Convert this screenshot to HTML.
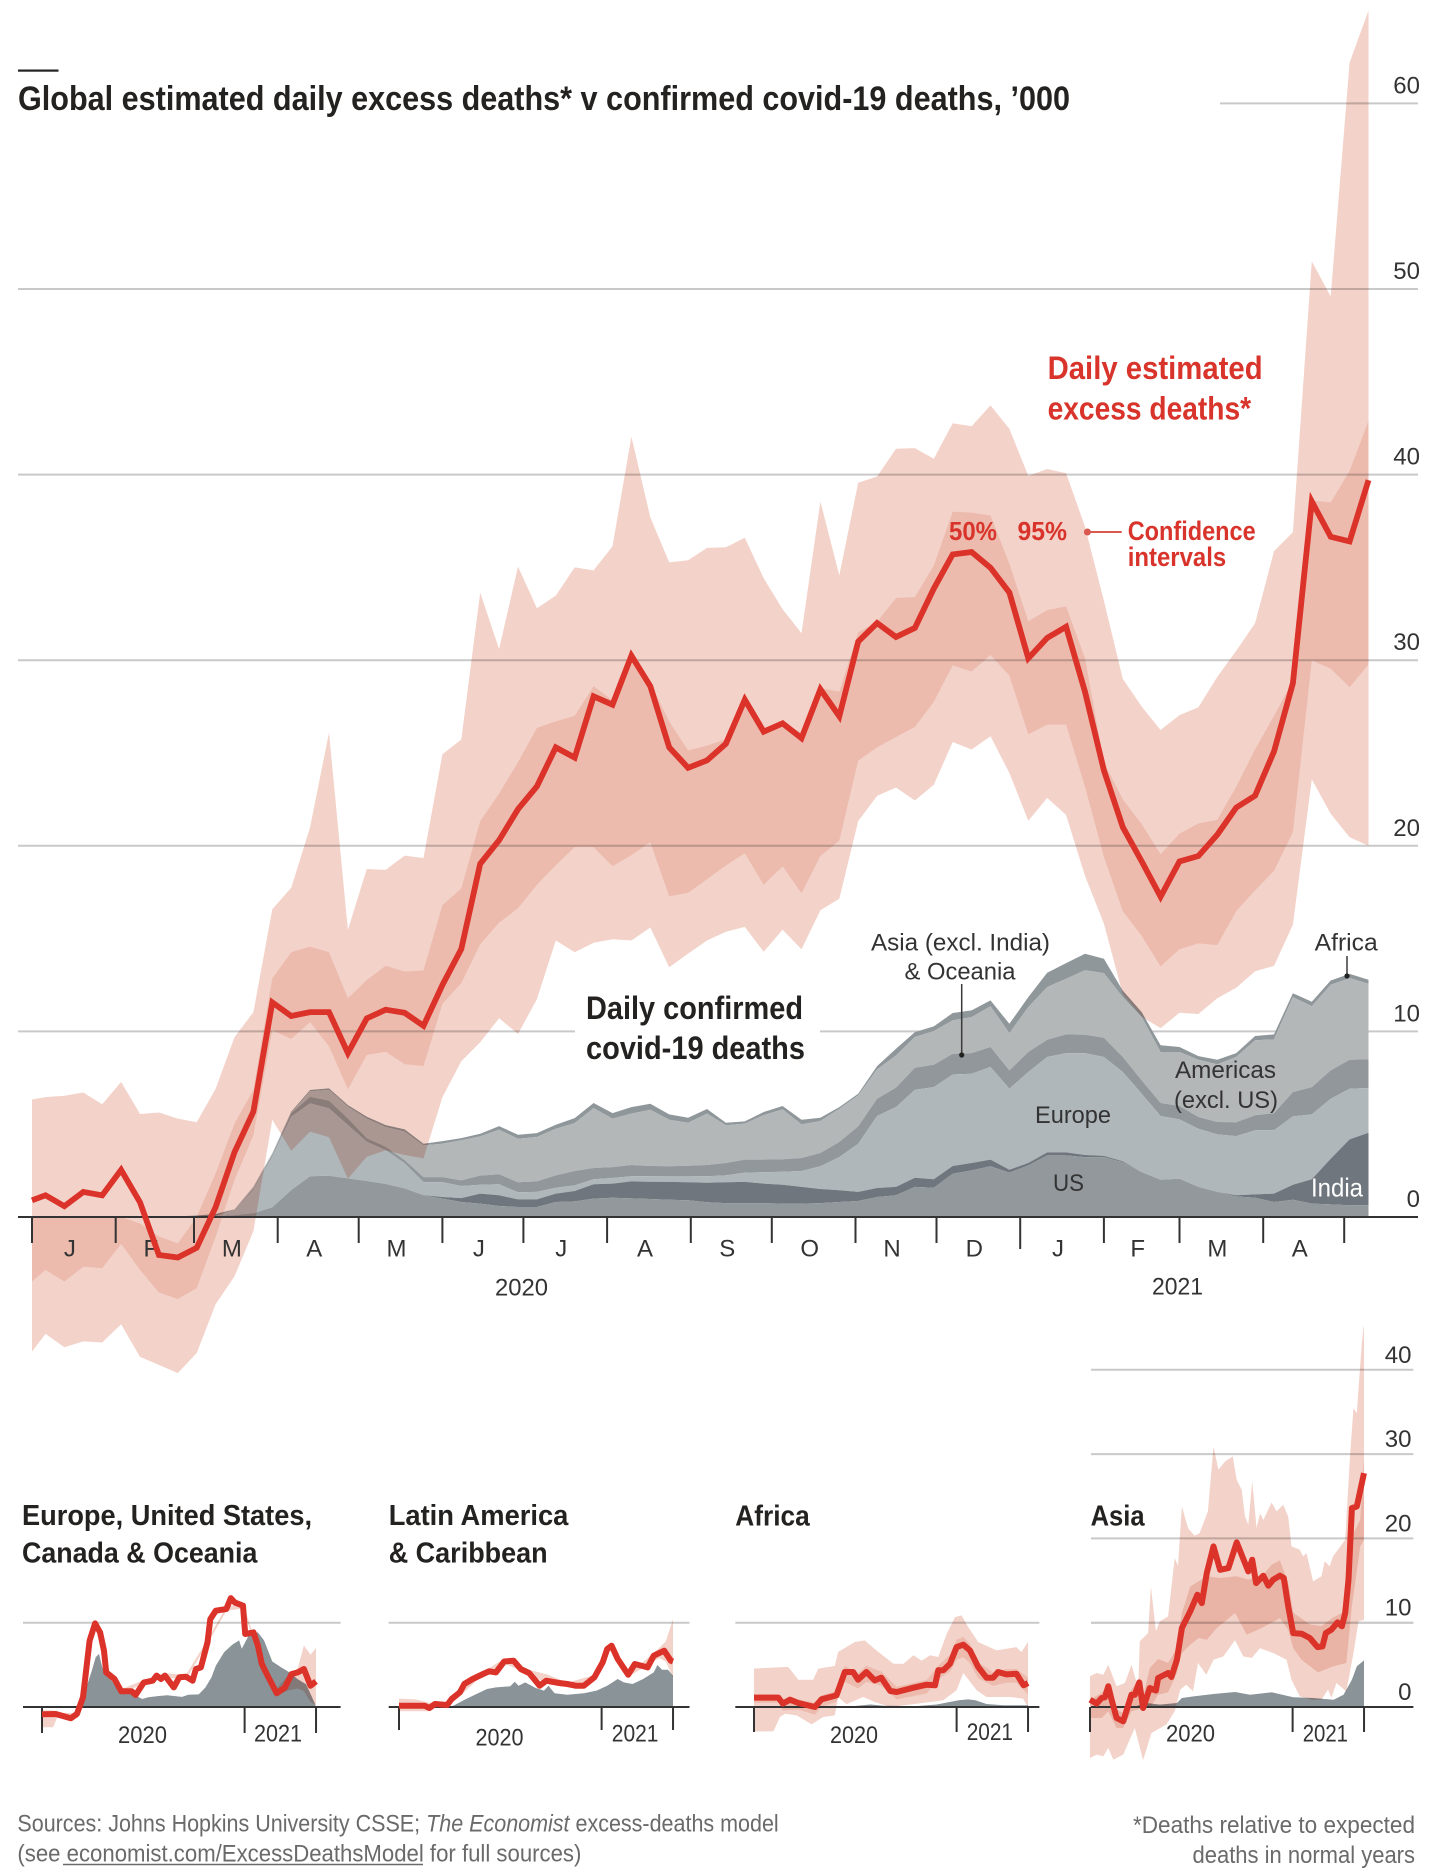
<!DOCTYPE html>
<html lang="en">
<head>
<meta charset="utf-8">
<title>Global estimated daily excess deaths v confirmed covid-19 deaths</title>
<style>
html,body{margin:0;padding:0;background:#fff;}
svg{display:block;font-family:"Liberation Sans",sans-serif;}
.t{fill:#333;font-size:24px;}
.b{fill:#242220;font-weight:bold;}
.r{fill:#d9342b;font-weight:bold;}
.s{fill:#6a6a6a;font-size:24px;}
</style>
</head>
<body>
<svg id="chart" xmlns="http://www.w3.org/2000/svg" width="1434" height="1870" viewBox="0 0 1434 1870">
<rect x="0" y="0" width="1434" height="1870" fill="#fff"/>
<rect x="18" y="69.5" width="40.5" height="2.2" fill="#222"/>
<text class="b" x="18" y="110" font-size="34" textLength="1052" lengthAdjust="spacingAndGlyphs">Global estimated daily excess deaths* v confirmed covid-19 deaths, ’000</text>
<g id="gridLayer"></g>
<g id="grayLayer"></g>
<g id="pinkLayer"></g>
<g id="axisLayer"></g>
<g id="labelLayer"></g>
<g id="lineLayer"></g>

<text class="r" x="1047.6" y="379" font-size="32" textLength="215" lengthAdjust="spacingAndGlyphs">Daily estimated</text>
<text class="r" x="1047.6" y="419.5" font-size="32" textLength="203.5" lengthAdjust="spacingAndGlyphs">excess deaths*</text>
<text class="r" x="949" y="540" font-size="26" textLength="48" lengthAdjust="spacingAndGlyphs">50%</text>
<text class="r" x="1017.5" y="540" font-size="26" textLength="49.5" lengthAdjust="spacingAndGlyphs">95%</text>
<circle cx="1087.4" cy="532" r="3.5" fill="#d9584f"/>
<line x1="1087.4" y1="532" x2="1121.7" y2="532" stroke="#d9584f" stroke-width="2"/>
<text class="r" x="1127.7" y="540" font-size="27" textLength="128" lengthAdjust="spacingAndGlyphs">Confidence</text>
<text class="r" x="1127.7" y="566" font-size="27" textLength="98.5" lengthAdjust="spacingAndGlyphs">intervals</text>

<text class="b" x="586" y="1019" font-size="32" textLength="217" lengthAdjust="spacingAndGlyphs">Daily confirmed</text>
<text class="b" x="586" y="1059" font-size="32" textLength="219" lengthAdjust="spacingAndGlyphs">covid-19 deaths</text>

<text class="t" fill="#242220" x="871" y="950.5" font-size="26" textLength="179" lengthAdjust="spacingAndGlyphs">Asia (excl. India)</text>
<text class="t" x="904.5" y="979.5" font-size="26" textLength="111" lengthAdjust="spacingAndGlyphs">&amp; Oceania</text>
<line x1="961.7" y1="984" x2="961.7" y2="1055" stroke="#3a3a3a" stroke-width="1.5"/>
<circle cx="961.7" cy="1055" r="2.6" fill="#222"/>
<text class="t" x="1314.7" y="950.5" font-size="26" textLength="63" lengthAdjust="spacingAndGlyphs">Africa</text>
<line x1="1347" y1="956" x2="1347" y2="976" stroke="#3a3a3a" stroke-width="1.5"/>
<circle cx="1347" cy="976" r="2.6" fill="#222"/>
<text class="t" x="1175" y="1077.8" font-size="26" textLength="101" lengthAdjust="spacingAndGlyphs">Americas</text>
<text class="t" x="1174" y="1108" font-size="26" textLength="104" lengthAdjust="spacingAndGlyphs">(excl. US)</text>
<text class="t" x="1035" y="1123" font-size="26" textLength="76" lengthAdjust="spacingAndGlyphs">Europe</text>
<text class="t" x="1053" y="1191" font-size="26" textLength="31" lengthAdjust="spacingAndGlyphs">US</text>
<text x="1311" y="1196.7" font-size="26" fill="#fff" textLength="52" lengthAdjust="spacingAndGlyphs">India</text>

<text class="t" x="495" y="1295.7" textLength="53" lengthAdjust="spacingAndGlyphs">2020</text>
<text class="t" x="1152" y="1294.6" textLength="51" lengthAdjust="spacingAndGlyphs">2021</text>

<text class="b" x="22" y="1525" font-size="29" textLength="290" lengthAdjust="spacingAndGlyphs">Europe, United States,</text>
<text class="b" x="22" y="1562.7" font-size="29" textLength="235.4" lengthAdjust="spacingAndGlyphs">Canada &amp; Oceania</text>
<text class="b" x="388.7" y="1525" font-size="29" textLength="179.7" lengthAdjust="spacingAndGlyphs">Latin America</text>
<text class="b" x="388.7" y="1562.7" font-size="29" textLength="159" lengthAdjust="spacingAndGlyphs">&amp; Caribbean</text>
<text class="b" x="735.3" y="1525.5" font-size="29" textLength="74.5" lengthAdjust="spacingAndGlyphs">Africa</text>
<text class="b" x="1090.6" y="1525.5" font-size="29" textLength="54" lengthAdjust="spacingAndGlyphs">Asia</text>

<text class="t" x="118" y="1743" textLength="49" lengthAdjust="spacingAndGlyphs">2020</text>
<text class="t" x="254" y="1741.7" textLength="48" lengthAdjust="spacingAndGlyphs">2021</text>
<text class="t" x="475.5" y="1745.7" textLength="48" lengthAdjust="spacingAndGlyphs">2020</text>
<text class="t" x="611.8" y="1741.7" textLength="46.6" lengthAdjust="spacingAndGlyphs">2021</text>
<text class="t" x="830" y="1743" textLength="48" lengthAdjust="spacingAndGlyphs">2020</text>
<text class="t" x="966.7" y="1740" textLength="46.3" lengthAdjust="spacingAndGlyphs">2021</text>
<text class="t" x="1166" y="1741.7" textLength="49" lengthAdjust="spacingAndGlyphs">2020</text>
<text class="t" x="1302.7" y="1741.7" textLength="45.3" lengthAdjust="spacingAndGlyphs">2021</text>

<text class="s" x="17.4" y="1831.7" textLength="761.3" lengthAdjust="spacingAndGlyphs">Sources: Johns Hopkins University CSSE; <tspan font-style="italic">The Economist</tspan> excess-deaths model</text>
<text class="s" x="17.4" y="1861.7" textLength="564" lengthAdjust="spacingAndGlyphs">(see economist.com/ExcessDeathsModel for full sources)</text>
<line x1="63" y1="1864.5" x2="423" y2="1864.5" stroke="#6a6a6a" stroke-width="1.6"/>
<text class="s" x="1133" y="1833" textLength="282" lengthAdjust="spacingAndGlyphs">*Deaths relative to expected</text>
<text class="s" x="1192.5" y="1863" textLength="222.5" lengthAdjust="spacingAndGlyphs">deaths in normal years</text>
</svg>
<script>
/* ---------- main chart data (thousands per day) ---------- */
const weekDays = [0,5,12,19,26,33,40,47,54,61,68,75,82,89,96,103,110,117,124,131,138,145,152,159,166,173,180,187,194,201,208,215,222,229,236,243,250,257,264,271,278,285,292,299,306,313,320,327,334,341,348,355,362,369,376,383,390,397,404,411,418,425,432,439,446,453,460,467,474,481,488,495];
const medianValues = [0.9,1.17,.58,1.35,1.17,2.54,.79,-2.05,-2.18,-1.66,.53,3.49,5.68,11.56,10.83,11.04,11.04,8.83,10.7,11.17,11.0,10.3,12.5,14.44,19.03,20.3,21.97,23.2,25.3,24.75,28.05,27.6,30.24,28.6,25.3,24.2,24.6,25.5,27.87,26.15,26.6,25.8,28.43,26.98,31.0,32.0,31.25,31.74,33.86,35.7,35.83,34.98,33.64,30.1,31.2,31.8,28.3,24.07,21.0,19.16,17.26,19.16,19.45,20.6,22.06,22.7,25.08,28.76,38.55,36.65,36.4,39.7];
const upper95 = [6.33,6.46,6.53,6.71,6.07,7.28,5.55,5.63,5.3,5.1,6.9,9.68,11.04,16.58,17.74,21.0,26.1,15.47,18.75,18.7,19.47,19.34,24.93,25.73,33.64,30.6,35.05,32.8,33.48,35.0,34.84,36.14,42.05,37.7,35.27,35.38,36.05,36.09,36.6,34.42,32.74,31.45,38.55,34.57,39.56,39.9,41.39,41.43,40.85,42.77,42.6,43.73,42.46,39.93,40.3,40.07,37.2,33.2,28.99,27.5,26.24,27.04,27.47,29.1,30.5,32.0,35.87,36.9,51.5,49.6,62.2,65.0];
const lower95 = [-7.25,-6.3,-7.02,-6.7,-6.76,-5.78,-7.54,-7.97,-8.41,-7.33,-4.7,-3.2,-.76,5.24,3.57,4.6,4.3,2.07,3.25,3.6,3.34,3.16,6.45,8.39,9.42,10.71,9.86,11.74,14.9,14.26,14.78,14.96,14.9,15.6,13.46,14.19,14.9,15.37,15.63,14.29,15.48,14.43,16.53,17.15,21.33,22.69,23.14,22.44,23.29,25.59,25.19,25.9,23.92,21.35,22.58,21.66,18.38,15.81,12.0,10.79,10.18,11.0,10.94,11.79,12.35,13.24,13.53,15.75,23.58,21.73,20.46,20.0];
const upper50 = [0,0,0,0,0,0,-.35,-1.05,-1.42,0,2.35,5.04,6.84,12.85,14.26,14.57,14.26,11.79,12.77,13.54,13.23,13.28,16.8,17.7,21.32,22.82,24.5,26.35,26.7,27,28.6,27.84,30.3,28.75,26.7,25.14,25.4,25.75,27.9,26.3,26.6,26.1,28.5,28.3,31.5,32.07,33.35,33.4,35.1,38.0,37.95,37.8,35.2,32.1,32.7,32.9,30.1,24.5,22.5,21.17,19.54,20.66,21.2,21.4,23.18,25.2,27,28.9,38.6,38.5,40.2,42.9];
const lower50 = [-3.48,-2.85,-3.48,-2.67,-2.76,-1.45,-2.85,-4.06,-4.42,-3.84,-1.06,2.0,4.4,10.07,9.59,10.5,9.2,6.88,8.73,8.9,8.24,8.13,11.48,12.6,14.7,15.86,16.63,17.9,18.95,19.93,19.93,18.9,19.5,20.19,17.28,17.46,18.2,18.94,19.6,17.9,18.9,17.44,19.45,20.28,24.59,25.3,25.86,26.4,27.76,29.72,29.39,30.28,29.17,26.0,26.53,26.53,23.18,19.4,16.48,15.14,13.5,14.43,14.74,14.65,16.48,17.6,18.65,20.73,29.99,29.54,28.54,29.77];
const usTop = [.02,.02,.02,.02,.02,.02,.02,.02,.02,.03,.05,.1,.2,.52,1.45,2.2,2.22,2.08,1.94,1.78,1.54,1.17,.99,.81,.72,.59,.54,.54,.81,.84,.99,1.04,1.0,.97,.93,.9,.79,.75,.75,.75,.72,.72,.75,.81,.86,1.08,1.17,1.62,1.58,2.33,2.51,2.73,2.39,2.78,3.32,3.32,3.23,3.23,2.96,2.42,2.01,2.06,1.62,1.35,1.11,1.04,.81,.93,.72,.68,.63,.63];
const indiaTop = [.02,.02,.02,.02,.02,.02,.02,.02,.02,.03,.05,.1,.2,.52,1.45,2.2,2.22,2.08,1.94,1.78,1.54,1.18,1.08,1.02,1.26,1.17,.95,.95,1.26,1.4,1.76,1.8,1.92,1.9,1.89,1.87,1.85,1.87,1.89,1.8,1.74,1.62,1.51,1.44,1.35,1.56,1.62,2.12,2.03,2.75,2.91,3.09,2.55,2.91,3.48,3.48,3.34,3.29,3.0,2.42,2.01,2.06,1.62,1.35,1.17,1.22,1.26,1.74,2.03,3.14,4.18,4.54];
const europeTop = [.02,.02,.02,.02,.02,.02,.02,.02,.02,.03,.05,.36,1.45,3.25,5.4,6.12,5.85,4.95,4.05,3.6,2.9,1.88,1.88,1.67,1.74,1.76,1.33,1.35,1.58,1.7,2.03,2.1,2.2,2.2,2.19,2.19,2.2,2.24,2.39,2.41,2.44,2.48,2.73,3.23,3.95,5.44,5.92,6.86,7.0,7.68,7.72,8.08,6.91,7.81,8.62,8.83,8.83,8.62,7.81,6.64,5.44,5.26,4.76,4.45,4.36,4.67,4.67,5.42,5.53,6.37,6.91,6.95];
const asiaTop = [.02,.02,.02,.02,.02,.02,.02,.02,.02,.03,.05,.38,1.52,3.35,5.6,6.48,6.27,5.31,4.24,3.79,3.07,2.15,2.15,1.97,2.23,2.3,1.87,1.92,2.24,2.48,2.64,2.69,2.8,2.75,2.73,2.76,2.8,2.91,3.09,3.09,3.11,3.18,3.45,4.04,4.88,6.37,6.97,8.04,8.2,8.8,8.83,9.16,7.9,8.89,9.55,9.84,9.82,9.66,8.62,7.36,6.14,5.98,5.39,5.12,5.1,5.48,5.6,6.73,7.0,7.9,8.47,8.5];
const americasTop = [.02,.02,.02,.02,.02,.02,.02,.02,.02,.03,.05,.4,1.6,3.4,5.62,6.78,6.85,5.95,5.3,4.85,4.6,3.86,3.95,4.13,4.34,4.7,4.22,4.31,4.76,5.06,5.87,5.3,5.57,5.78,5.24,5.08,5.57,4.94,5.03,5.49,5.8,4.99,5.17,5.83,6.55,7.95,8.7,9.7,10.02,10.59,10.77,11.35,9.91,11.31,12.39,12.84,13.29,13.14,11.85,10.77,8.89,8.89,8.47,8.22,8.62,9.52,9.57,11.85,11.36,12.51,12.87,12.57];
const africaTop = [.03,.03,.03,.03,.03,.03,.03,.03,.03,.08,.16,.41,1.63,3.43,5.67,6.84,6.93,6.03,5.4,4.95,4.72,3.95,4.09,4.25,4.49,4.9,4.43,4.52,4.97,5.33,6.14,5.6,5.92,6.1,5.53,5.35,5.82,5.08,5.15,5.66,5.98,5.24,5.35,5.92,6.64,8.13,9.07,9.96,10.27,10.99,11.13,11.67,10.41,11.85,13.16,13.68,14.18,13.91,12.2,11.04,9.25,9.16,8.67,8.47,8.83,9.75,9.84,12.06,11.6,12.74,13.1,12.78];
const monthTickDays = [0,31,60,91,121,152,182,213,244,274,305,335,366,397,425,456,486];
const monthLabels = ['J','F','M','A','M','J','J','A','S','O','N','D','J','F','M','A'];
const yTickValues = [0,10,20,30,40,50,60];
const yTickLabels = ['0','10','20','30','40','50','60'];

/* ---------- small multiples data ---------- */
const europeLineDays = [0,25,52,63,74,86,96,105,112,116,131,143,162,169,184,200,207,215,222,238,248,260,272,278,287,299,304,314,333,341,348,363,367,382,390,397,409,424,439,451,462,473,485,495];
const europeLineValues = [-.87,-.83,-1.34,-.83,1.15,7.87,9.92,8.85,6.68,4.11,3.32,1.86,1.86,1.42,2.92,3.12,3.72,3.32,3.72,2.33,3.52,3.6,3.12,4.51,4.7,7.67,10.43,11.42,11.62,12.92,12.41,12.02,8.66,8.85,7.27,5.1,3.52,1.62,2.33,3.91,4.11,4.51,2.53,3.04];
const europeGrayDays = [0,67,74,82,90,97,103,109,116,131,147,165,181,192,211,226,253,264,283,295,306,314,329,344,356,361,375,390,401,416,432,447,462,477,492,495];
const europeGrayValues = [0,0,.55,2.7,4.3,5.9,6.3,4.7,3.9,2.7,1.9,1.5,.95,1.15,1.3,1.4,1.2,1.46,1.5,2.3,3.5,4.9,6.5,7.4,7.9,6.9,8.7,8.85,7.9,5.4,4.7,4.1,3.3,2.7,.55,0];
const europeBandDays = [0,20,27,40,63,86,96,116,143,184,222,260,299,333,363,397,424,447,462,473,485,495];
const europeUpper95 = [-.4,-.4,-.6,-.7,-.7,8,10.1,4.4,2.1,3.2,4,3.8,8,11.9,12.3,5.4,2.2,3.9,4.6,7.3,6.2,7];
const europeLower95 = [-2.4,-2.4,-1.3,-1.2,-1,7.7,9.7,3.9,1.7,2.7,3.5,3.3,7.5,11.4,11.7,4.9,1.4,2,2.2,1.9,.6,.2];

const latinLineDays = [0,46,55,65,87,95,110,118,133,152,163,175,190,207,220,235,254,266,289,304,319,334,353,368,376,384,395,414,426,449,460,479,491,495];
const latinLineValues = [.16,.16,-.12,.36,.24,.95,1.74,2.73,3.32,3.91,4.23,4.11,5.4,5.49,4.5,4.03,2.53,3.12,2.85,2.73,2.53,2.53,3.52,5.3,6.88,7.27,5.69,3.83,5.1,4.7,6.09,6.68,5.49,5.4];
const latinGrayDays = [0,85,98,121,140,159,175,201,209,216,228,247,262,270,281,304,334,357,376,395,406,422,441,460,467,475,486,495];
const latinGrayValues = [0,0,.16,.95,1.54,2.13,2.33,2.45,3.0,2.53,2.92,2.25,1.94,2.53,1.62,1.46,1.62,1.94,2.53,3.32,2.92,2.73,3.32,4.11,4.98,4.43,4.43,3.72];
const latinBandDays = [0,30,55,65,90,150,190,235,266,304,353,384,414,440,470,482,495];
const latinUpper95 = [1,.9,.5,.5,.5,4.1,5.7,4.4,3.9,2.9,3.8,7.6,4.1,5.3,7,7.8,10.4];
const latinLower95 = [-.5,-.5,-.5,.1,.1,3.7,5.2,3.8,2.9,2.4,3.2,7,3.6,4.6,5.8,5.4,3.5];

const africaLineDays = [0,44,52,65,80,110,122,149,164,179,188,203,218,230,246,258,288,312,327,333,342,354,366,378,390,405,420,432,441,456,474,487,495];
const africaLineValues = [1.11,1.11,.4,.87,.47,0,.91,1.38,4.15,4.15,3.24,4.15,3.16,3.48,1.9,1.78,2.29,2.65,2.57,4.35,4.35,5.14,7.11,7.39,6.72,4.74,3.48,3.48,4.15,3.87,3.95,2.57,2.85];
const africaGrayDays = [0,170,210,235,290,330,370,387,400,420,450,495];
const africaGrayValues = [0,.05,.3,.15,.1,.3,.8,.9,.8,.35,.2,.2];
const africaUpper95Days = [0,56,62,80,107,116,146,152,182,200,221,252,270,288,303,318,333,348,363,375,387,405,438,474,483,495];
const africaUpper95 = [4.55,4.74,4.74,3.24,3.24,4.55,4.86,6.52,7.71,7.9,6.72,5.14,5.14,6.13,5.5,6.13,5.93,8.7,10.67,10.87,9.49,7.71,6.72,7.11,6.52,7.71];
const africaLower95Days = [0,35,47,56,77,104,125,146,152,167,197,218,246,318,342,366,378,402,420,462,486,495];
const africaLower95 = [-2.89,-2.89,-1.19,-.8,-1,-2.06,-1.19,-1,1.19,.32,1.19,.59,0,.59,.79,2,4.03,2,1.19,1.19,1,0];
const africaBand50Days = [0,44,52,80,110,122,149,164,188,203,230,258,312,333,354,366,378,390,405,432,456,474,495];
const africaUpper50 = [1.5,1.5,.9,.9,.5,1.4,1.9,4.9,4,4.9,4.2,2.4,3.2,4.9,6.2,8,8.3,7.5,5.3,4.1,4.5,4.5,3.5];
const africaLower50 = [.5,.5,-.4,-.3,-.9,0,.6,3,2.2,3,2.5,.9,1.6,3.3,4.2,5.6,5.9,5.2,3.4,2.5,2.9,2.9,1.5];

const asiaLineDays = [0,12,21,27,33,39,48,60,75,81,89,96,108,119,123,141,147,157,166,181,194,202,211,223,235,250,265,286,293,300,313,322,331,343,350,358,367,382,397,411,420,426,436,447,455,461,467,473,482,495];
const asiaLineValues = [.87,.4,1.07,1.15,2.45,.87,-1.3,-1.7,1.46,1.46,2.92,-.12,2.25,1.94,3.44,4.03,3.56,5.61,9.37,11.34,13.32,12.33,15.89,19.05,16.28,16.48,19.53,16.09,17.47,14.7,15.57,14.39,15.1,15.57,15.3,11.94,8.77,8.7,8.18,7.11,7.19,8.77,9.17,10.04,9.57,11.15,15.1,23.6,23.79,27.75];
const asiaGrayDays = [0,80,102,126,157,166,187,223,262,289,328,367,403,440,458,473,482,495];
const asiaGrayValues = [0,.05,.47,.28,.47,1.07,1.26,1.54,1.78,1.46,1.74,1.15,1.07,.87,1.46,3.24,4.82,5.53];
const asiaUpper95Days = [0,12,24,33,48,63,75,87,90,99,105,110,119,126,141,153,159,166,177,189,198,213,223,232,244,258,265,274,280,286,293,301,307,313,328,337,349,358,364,379,385,391,403,418,424,433,439,461,470,476,482,491,495];
const asiaUpper95 = [3.64,4.03,3.83,5.02,2.45,2.85,5.02,2.25,7.79,8.38,8.78,14.3,8.98,10.16,10.75,17.67,16.76,23.79,21.22,20.32,20.63,23.2,30.91,28.14,29.13,29.72,26.95,25.77,22.6,21.62,26.76,21.22,22.99,22.2,24.26,23.2,23.99,22.6,19.05,18.66,17.87,18.26,14.9,15.49,17.27,16.68,17.87,19.85,30.12,35.45,34.86,43.16,45.45];
const asiaLower95Days = [0,12,24,33,42,60,81,96,111,138,153,163,174,186,195,210,223,241,262,277,292,307,331,355,364,379,400,418,430,436,445,463,476,485,495];
const asiaLower95 = [-6.05,-5.65,-5.85,-4.86,-6.24,-5.65,-2.49,-6.32,-3.08,-2.08,-.51,2.06,2.65,1.86,5.22,3.83,5.61,6.0,7.91,6.0,5.81,6.98,6.4,5.61,3.24,1.26,.87,.87,2.06,1.07,2.85,1.85,6.4,10.16,10.36];
const asiaUpper50Days = [0,21,33,48,60,75,89,96,108,123,141,157,166,181,211,235,265,286,313,328,343,358,367,397,418,439,455,467,473,488,495];
const asiaUpper50 = [.87,1.66,2.65,-.32,-.71,2.06,3.44,1.26,4.62,5.69,5.22,6.98,11.15,14.3,15.5,15.3,15.5,15.1,15.69,16.88,17.39,14.74,11.2,9.8,9.6,10.6,11.15,15.1,20.2,22.2,29.5];
const asiaLower50Days = [0,21,33,48,60,75,96,108,123,141,157,166,181,196,211,229,244,262,283,310,343,358,367,382,412,439,463,473,488,495];
const asiaLower50 = [-1.3,-1.3,-.51,-2.49,-2.49,-.51,-.12,-.12,1.46,1.74,4.03,6.4,7.39,8.18,7.98,9.37,10.16,11.15,8.58,9.37,10.55,9.17,7.0,5.61,4.11,4.82,5.22,11.94,19.05,19.84];
const asiaTickValues = [0,10,20,30,40];
const asiaTickLabels = ['0','10','20','30','40'];
const panelYearTicks = [0,366,495];
const baselineDays = [0,495];
const baselineValues = [0,0];

/* ---------- axis functions ---------- */
const SVGNS = 'http://www.w3.org/2000/svg';
function mainX(day){ return 32 + 2.7 * day; }
function mainY(v){ return 1217 - 18.56 * v; }
function panelY(v){ return 1707 - 8.43 * v; }
function panelX(left){ return function(day){ return left + 0.5536 * day; }; }
function pts(days, vals, xf, yf){
  return days.map(function(d, i){ return xf(d).toFixed(1) + ',' + yf(vals[i]).toFixed(1); });
}
function band(parent, name, upDays, up, lowDays, low, xf, yf, fill, blend){
  const el = document.createElementNS(SVGNS, 'polygon');
  
  
  el.setAttribute('points', pts(upDays, up, xf, yf).concat(pts(lowDays, low, xf, yf).reverse()).join(' '));
  el.setAttribute('fill', fill);
  if (blend) el.style.mixBlendMode = 'multiply';
  parent.appendChild(el);
  return el;
}
function hline(parent, name, x1, x2, y, color, w){
  const el = document.createElementNS(SVGNS, 'line');
  
  
  el.setAttribute('x1', x1);
  el.setAttribute('x2', x2);
  el.setAttribute('y1', y);
  el.setAttribute('y2', y);
  el.setAttribute('stroke', color);
  el.setAttribute('stroke-width', w);
  parent.appendChild(el);
}
function tick(parent, name, x, y1, y2){
  const el = document.createElementNS(SVGNS, 'line');
  
  
  el.setAttribute('x1', x);
  el.setAttribute('x2', x);
  el.setAttribute('y1', y1);
  el.setAttribute('y2', y2);
  el.setAttribute('stroke', '#333');
  el.setAttribute('stroke-width', 2);
  parent.appendChild(el);
}
function label(parent, name, str, x, y, anchor){
  const el = document.createElementNS(SVGNS, 'text');
  
  
  el.setAttribute('class', 't');
  el.setAttribute('x', x);
  el.setAttribute('y', y);
  el.setAttribute('text-anchor', anchor);
  el.textContent = str;
  parent.appendChild(el);
}
function redLine(name, days, vals, xf, yf, width, join){
  const el = document.createElementNS(SVGNS, 'polyline');
  
  
  el.setAttribute('points', pts(days, vals, xf, yf).join(' '));
  el.setAttribute('fill', 'none');
  el.setAttribute('stroke', '#db3229');
  el.setAttribute('stroke-width', width);
  el.setAttribute('stroke-linejoin', join);
  lineLayer.appendChild(el);
}

const gridLayer = document.getElementById('gridLayer');
const grayLayer = document.getElementById('grayLayer');
const pinkLayer = document.getElementById('pinkLayer');
const axisLayer = document.getElementById('axisLayer');
const labelLayer = document.getElementById('labelLayer');
const lineLayer = document.getElementById('lineLayer');
const GRID = '#c9c9c9';
const PINK95 = '#f3d2c9';
const PINK50 = '#f8e3dd';
const PANELGRAY = '#8a9398';

/* main gridlines + y labels */
yTickValues.forEach(function(v, i){
  const y = mainY(v);
  if (v === 60) {
    hline(gridLayer, 'gridline-60', 1220, 1418, y, GRID, 2);
  } else if (v === 10) {
    hline(gridLayer, 'gridline-10-left', 18, 575, y, GRID, 2);
    hline(gridLayer, 'gridline-10-right', 820, 1418, y, GRID, 2);
  } else if (v > 0) {
    hline(gridLayer, 'gridline', 18, 1418, y, GRID, 2);
  }
  label(labelLayer, 'y-tick-label', yTickLabels[i], 1420, y - 10, 'end');
});

/* stacked confirmed deaths, top layer first */
const zeroLine = weekDays.map(function(){ return 0; });
band(grayLayer, 'africa-deaths-area', weekDays, africaTop, weekDays, americasTop, mainX, mainY, '#8f979b');
band(grayLayer, 'americas-deaths-area', weekDays, americasTop, weekDays, asiaTop, mainX, mainY, '#b3b7b8');
band(grayLayer, 'asia-deaths-area', weekDays, asiaTop, weekDays, europeTop, mainX, mainY, '#91979a');
band(grayLayer, 'europe-deaths-area', weekDays, europeTop, weekDays, indiaTop, mainX, mainY, '#b0b7bb');
band(grayLayer, 'india-deaths-area', weekDays, indiaTop, weekDays, usTop, mainX, mainY, '#6f767d');
band(grayLayer, 'us-deaths-area', weekDays, usTop, weekDays, zeroLine, mainX, mainY, '#92989b');

/* confidence bands */
band(pinkLayer, 'band-95-percent', weekDays, upper95, weekDays, lower95, mainX, mainY, PINK95, true);
band(pinkLayer, 'band-50-percent', weekDays, upper50, weekDays, lower50, mainX, mainY, PINK50, true);

/* main axis */
hline(axisLayer, 'x-axis', 18, 1418, 1217, '#333', 2);
monthTickDays.forEach(function(d){
  const long = d === 366;
  tick(axisLayer, 'month-tick', mainX(d), 1217, long ? 1249 : 1243);
});
monthLabels.forEach(function(m, i){
  const cx = (mainX(monthTickDays[i]) + mainX(monthTickDays[i + 1])) / 2 - 4;
  label(labelLayer, 'month-label', m, cx, 1256.5, 'middle');
});
redLine('excess-deaths-line', weekDays, medianValues, mainX, mainY, 5.8, 'miter');

/* small multiples */
function panelFrame(key, left, gridFrom, gridTo, tickEnd){
  const xf = panelX(left);
  hline(gridLayer, key + '-gridline', gridFrom, gridTo, panelY(10), GRID, 2);
  hline(axisLayer, key + '-axis', gridFrom, gridTo, 1707, '#333', 2);
  panelYearTicks.forEach(function(d){
    tick(axisLayer, key + '-tick', xf(d), 1707, tickEnd);
  });
  return xf;
}

const xEurope = panelFrame('panel-europe', 42, 23, 340.6, 1733);
band(grayLayer, 'panel-europe-confirmed', europeGrayDays, europeGrayValues, baselineDays, baselineValues, xEurope, panelY, PANELGRAY);
band(pinkLayer, 'panel-europe-band', europeBandDays, europeUpper95, europeBandDays, europeLower95, xEurope, panelY, PINK95, true);
redLine('panel-europe-line', europeLineDays, europeLineValues, xEurope, panelY, 6, 'round');

const xLatin = panelFrame('panel-latin', 399, 388.7, 689.5, 1730);
band(grayLayer, 'panel-latin-confirmed', latinGrayDays, latinGrayValues, baselineDays, baselineValues, xLatin, panelY, PANELGRAY);
band(pinkLayer, 'panel-latin-band', latinBandDays, latinUpper95, latinBandDays, latinLower95, xLatin, panelY, PINK95, true);
redLine('panel-latin-line', latinLineDays, latinLineValues, xLatin, panelY, 6, 'round');

const xAfrica = panelFrame('panel-africa', 754, 735.3, 1039.4, 1732);
band(grayLayer, 'panel-africa-confirmed', africaGrayDays, africaGrayValues, baselineDays, baselineValues, xAfrica, panelY, PANELGRAY);
band(pinkLayer, 'panel-africa-band-95', africaUpper95Days, africaUpper95, africaLower95Days, africaLower95, xAfrica, panelY, PINK95, true);
band(pinkLayer, 'panel-africa-band-50', africaBand50Days, africaUpper50, africaBand50Days, africaLower50, xAfrica, panelY, PINK50, true);
redLine('panel-africa-line', africaLineDays, africaLineValues, xAfrica, panelY, 6, 'round');

const xAsia = panelFrame('panel-asia', 1090, 1091, 1413.4, 1732);
asiaTickValues.forEach(function(v, i){
  if (v >= 10) hline(gridLayer, 'panel-asia-gridline', 1091, 1413.4, panelY(v), GRID, 2);
  label(labelLayer, 'panel-asia-y-label', asiaTickLabels[i], 1411.5, panelY(v) - 7, 'end');
});
band(grayLayer, 'panel-asia-confirmed', asiaGrayDays, asiaGrayValues, baselineDays, baselineValues, xAsia, panelY, PANELGRAY);
band(pinkLayer, 'panel-asia-band-95', asiaUpper95Days, asiaUpper95, asiaLower95Days, asiaLower95, xAsia, panelY, PINK95, true);
band(pinkLayer, 'panel-asia-band-50', asiaUpper50Days, asiaUpper50, asiaLower50Days, asiaLower50, xAsia, panelY, '#f5dad2', true);
redLine('panel-asia-line', asiaLineDays, asiaLineValues, xAsia, panelY, 6, 'round');
</script>
</body>
</html>
